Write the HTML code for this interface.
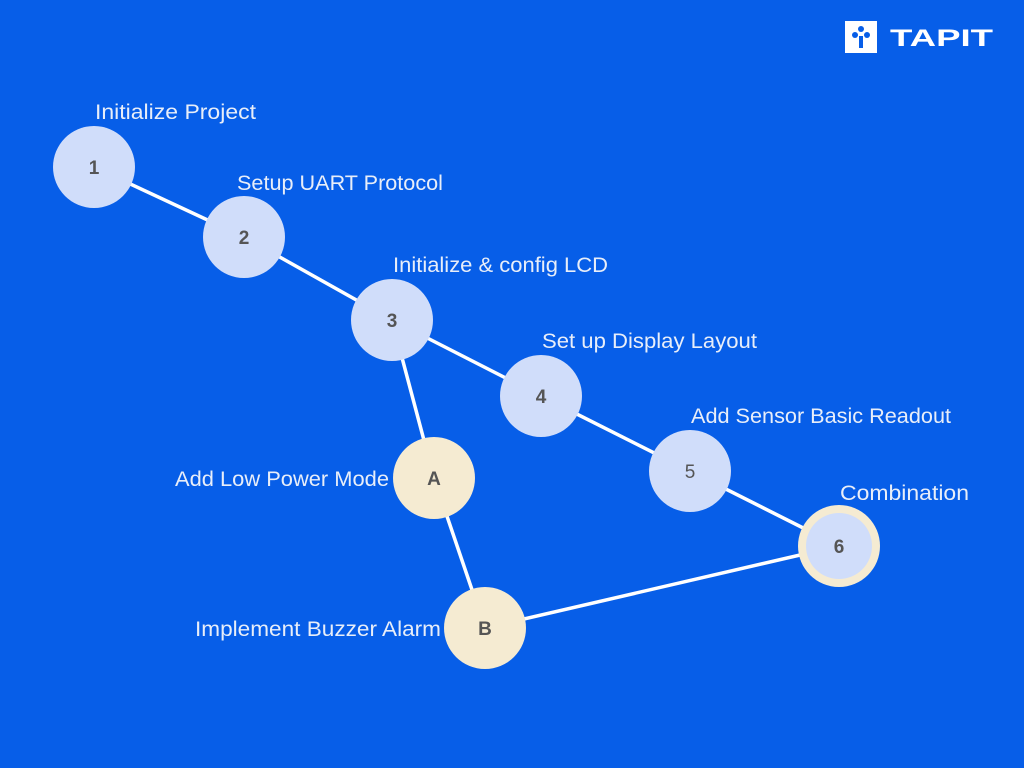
<!DOCTYPE html>
<html><head><style>
body{margin:0;width:1024px;height:768px;overflow:hidden;background:#075EE8;}
svg{display:block}
text{font-family:"Liberation Sans",sans-serif;}
</style></head><body>
<svg width="1024" height="768" viewBox="0 0 1024 768">
<rect width="1024" height="768" fill="#075EE8"/>
<g stroke="#fff" stroke-width="3.5" fill="none">
<line x1="94" y1="167" x2="244" y2="237"/>
<line x1="244" y1="237" x2="392" y2="320"/>
<line x1="392" y1="320" x2="541" y2="396"/>
<line x1="541" y1="396" x2="690" y2="471"/>
<line x1="690" y1="471" x2="839" y2="546"/>
<line x1="392" y1="320" x2="434" y2="478"/>
<line x1="434" y1="478" x2="485" y2="628"/>
<line x1="485" y1="628" x2="839" y2="546"/>
</g>
<g fill="#D0DDFA">
<circle cx="94" cy="167" r="41"/>
<circle cx="244" cy="237" r="41"/>
<circle cx="392" cy="320" r="41"/>
<circle cx="541" cy="396" r="41"/>
<circle cx="690" cy="471" r="41"/>
</g>
<circle cx="839" cy="546" r="41" fill="#F5EBD2"/>
<circle cx="839" cy="546" r="33" fill="#D0DDFA"/>
<circle cx="434" cy="478" r="41" fill="#F5EBD2"/>
<circle cx="485" cy="628" r="41" fill="#F5EBD2"/>
<g fill="#555" font-size="19" font-weight="bold" text-anchor="middle">
<text x="94" y="174">1</text>
<text x="244" y="244">2</text>
<text x="392" y="327">3</text>
<text x="541" y="403">4</text>
<text x="690" y="478" font-weight="normal">5</text>
<text x="839" y="553">6</text>
<text x="434" y="485">A</text>
<text x="485" y="635">B</text>
</g>
<g fill="#E8EEF9" font-size="21" lengthAdjust="spacingAndGlyphs">
<text x="95" y="119" textLength="161" lengthAdjust="spacingAndGlyphs">Initialize Project</text>
<text x="237" y="190" textLength="206" lengthAdjust="spacingAndGlyphs">Setup UART Protocol</text>
<text x="393" y="272" textLength="215" lengthAdjust="spacingAndGlyphs">Initialize &amp; config LCD</text>
<text x="542" y="348" textLength="215" lengthAdjust="spacingAndGlyphs">Set up Display Layout</text>
<text x="691" y="423" textLength="260" lengthAdjust="spacingAndGlyphs">Add Sensor Basic Readout</text>
<text x="840" y="500" textLength="129" lengthAdjust="spacingAndGlyphs">Combination</text>
<text x="175" y="486" textLength="214" lengthAdjust="spacingAndGlyphs">Add Low Power Mode</text>
<text x="195" y="636" textLength="246" lengthAdjust="spacingAndGlyphs">Implement Buzzer Alarm</text>
</g>
<rect x="845" y="21" width="32" height="32" fill="#fff"/>
<g fill="#075EE8">
<circle cx="861" cy="29" r="3"/><circle cx="855" cy="35" r="3"/><circle cx="867" cy="35" r="3"/>
<rect x="859" y="36" width="4" height="12"/>
</g>
<text x="890" y="46" fill="#fff" font-size="24" font-weight="bold" textLength="103" lengthAdjust="spacingAndGlyphs">TAPIT</text>
</svg>
</body></html>
